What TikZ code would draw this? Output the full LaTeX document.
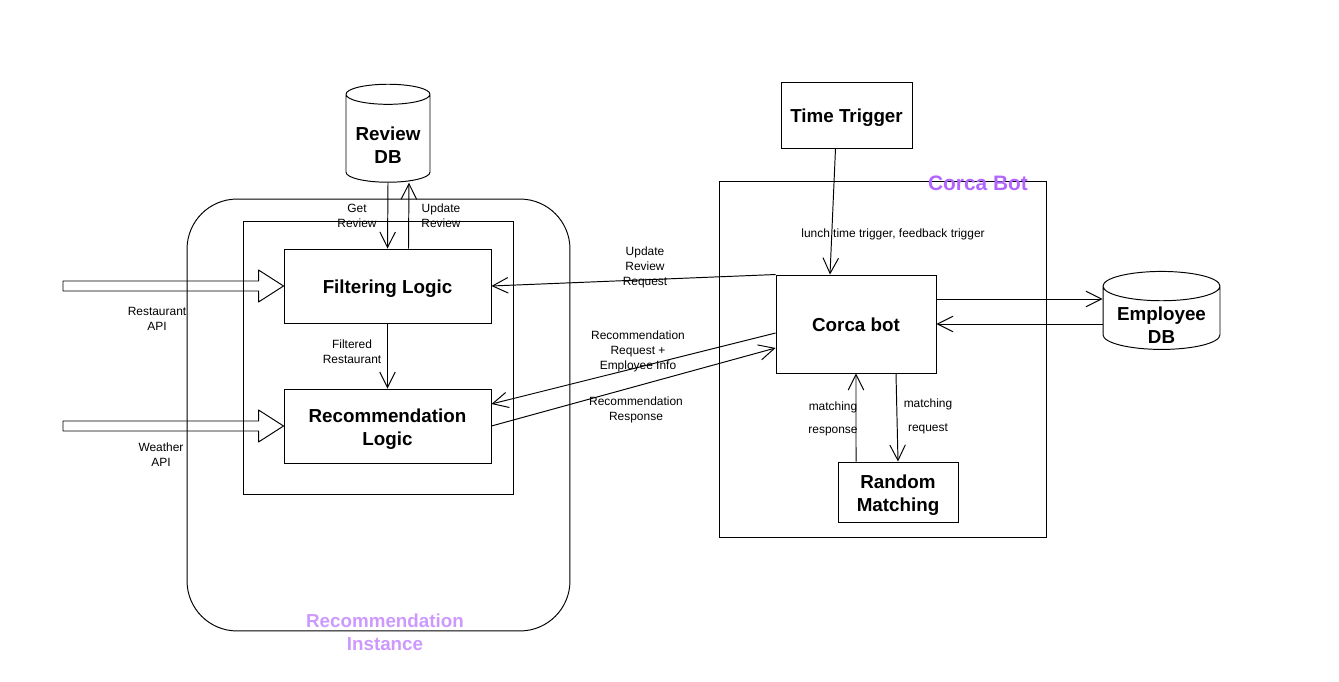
\documentclass[tikz,border=0pt]{standalone}
\usepackage{fontspec}
\setmainfont{Liberation Sans}
\usetikzlibrary{shapes.geometric,arrows.meta,calc}
\definecolor{botpurple}{HTML}{B266FF}
\definecolor{instpurple}{HTML}{CC99FF}
\begin{document}
\begin{tikzpicture}[x=0.02cm,y=-0.02cm,line width=0.55pt,
    box/.style={draw,align=center,inner sep=0pt,text height=11.3pt,text depth=2.2pt,font=\bfseries\fontsize{10.7}{13}\selectfont},
    twobox/.style={box,text height=24.3pt,text depth=2.2pt},
    db/.style={draw,cylinder,shape border rotate=90,aspect=0.31,inner sep=0pt,font=\bfseries\fontsize{10.7}{13}\selectfont},
    dbtext/.style={align=center,inner sep=0pt,font=\bfseries\fontsize{10.7}{13}\selectfont},
    frame/.style={draw,inner sep=0pt},
    lbl/.style={align=center,inner sep=0pt,font=\fontsize{6.8}{8.5}\selectfont},
    title/.style={align=center,inner sep=0pt,font=\bfseries\fontsize{10.7}{13}\selectfont},
    flow/.style={-{Straight Barb[length=0.31cm,width=0.31cm]}},
    hollow/.style={draw,line join=round}]

    \useasboundingbox (0,0) rectangle (1339,682);

    \node[frame,rounded corners=1cm,minimum width=7.66cm,minimum height=8.64cm] (inst) at (378.5,415) {};
    \node[frame,minimum width=5.42cm,minimum height=5.48cm] (inner) at (378.5,358) {};
    \node[frame,minimum width=6.56cm,minimum height=7.14cm] (botframe) at (883,359.5) {};

    \node[box,minimum width=4.14cm,minimum height=1.48cm] (filter) at (387.5,286) {Filtering Logic};
    \node[twobox,minimum width=4.14cm,minimum height=1.48cm] (recom) at (387.5,426) {Recommendation\\Logic};
    \node[db,minimum width=1.68cm,minimum height=1.96cm] (reviewdb) at (388,138.5) {\phantom{Review}};
    \node[dbtext] (reviewtxt) at (388,145.5) {Review\\DB};
    \node[box,minimum width=2.62cm,minimum height=1.32cm] (trigger) at (846.5,115) {Time Trigger};
    \node[box,minimum width=3.2cm,minimum height=1.96cm] (corca) at (856,324) {Corca bot};
    \node[twobox,minimum width=2.4cm,minimum height=1.2cm] (random) at (898,492) {Random\\Matching};
    \node[db,aspect=0.33,minimum width=2.34cm,minimum height=1.56cm] (empdb) at (1161.5,318) {\phantom{Employee}};
    \node[dbtext] (emptxt) at (1161.5,325) {Employee\\DB};

    \coordinate (restapi) at (63,286);
    \coordinate (weatherapi) at (63,426);

    \draw[flow] (reviewdb.south) -- (filter.north);
    \draw[flow] ([xshift=0.42cm]filter.north) -- ([xshift=0.42cm]reviewdb.south);
    \draw[flow] (filter.south) -- (recom.north);
    \draw[hollow] ($(restapi)+(0,-5)$) -- ($(filter.west)+(-25,-5)$) -- ($(filter.west)+(-25,-16)$) -- (filter.west)
        -- ($(filter.west)+(-25,16)$) -- ($(filter.west)+(-25,5)$) -- ($(restapi)+(0,5)$) -- cycle;
    \draw[hollow] ($(weatherapi)+(0,-5)$) -- ($(recom.west)+(-25,-5)$) -- ($(recom.west)+(-25,-16)$) -- (recom.west)
        -- ($(recom.west)+(-25,16)$) -- ($(recom.west)+(-25,5)$) -- ($(weatherapi)+(0,5)$) -- cycle;

    \draw[flow] ([xshift=-0.22cm]trigger.south) -- ([xshift=-0.52cm]corca.north);
    \draw[flow] ([yshift=0.5cm]corca.east) -- ([yshift=0.5cm]corca.east -| empdb.west);
    \draw[flow] (corca.east -| empdb.west) -- (corca.east);
    \draw[flow] (corca.north west) -- (filter.east);
    \draw[flow] ([yshift=-0.18cm]corca.west) -- ([yshift=0.44cm]recom.east);
    \draw[flow] (recom.east) -- ([yshift=-0.48cm]corca.west);
    \draw[flow] ([xshift=-0.84cm]random.north) -- (corca.south);
    \draw[flow] ([xshift=0.8cm]corca.south) -- (random.north);

    \node[lbl] (getlbl) at (357,216) {Get\\Review};
    \node[lbl] (updlbl) at (441,216) {Update\\Review};
    \node[lbl] (filtlbl) at (352,352) {Filtered\\Restaurant};
    \node[lbl] (restlbl) at (157,319) {Restaurant\\API};
    \node[lbl] (weathlbl) at (161,455) {Weather\\API};
    \node[lbl] (updreqlbl) at (645,267) {Update\\Review\\Request};
    \node[lbl] (recreqlbl) at (638,351) {Recommendation\\Request +\\Employee Info};
    \node[lbl] (reclbl) at (636,410) {Recommendation\\Response};
    \node[lbl] (triglbl) at (893,234) {lunch time trigger, feedback trigger};
    \node[lbl,font=\fontsize{6.8}{13.5}\selectfont] (mresplbl) at (833,419) {matching\\response};
    \node[lbl,font=\fontsize{6.8}{13.5}\selectfont] (mreqlbl) at (928,416.5) {matching\\request};

    \node[title,text=botpurple,font=\bfseries\fontsize{11.9}{14}\selectfont] (bottitle) at (978,183) {Corca Bot};
    \node[title,text=instpurple] (insttitle) at (385,632.5) {Recommendation\\Instance};
\end{tikzpicture}
\end{document}
